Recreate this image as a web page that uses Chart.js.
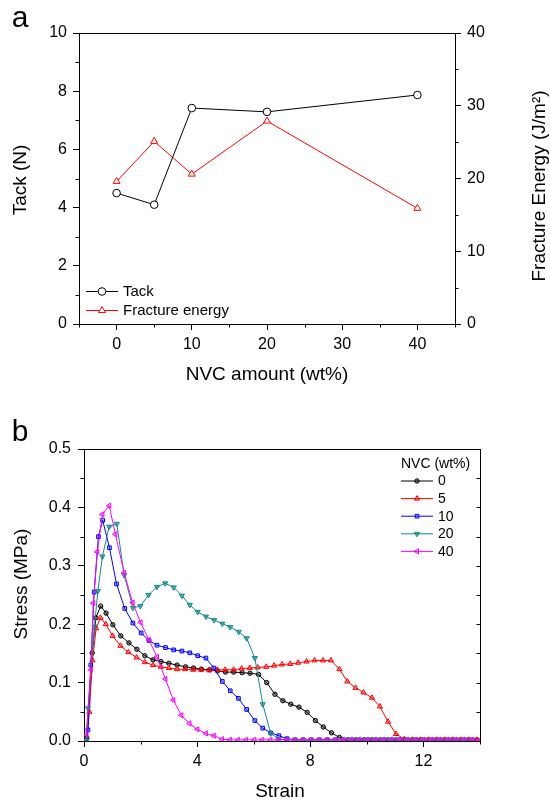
<!DOCTYPE html>
<html>
<head>
<meta charset="utf-8">
<script src="https://cdn.jsdelivr.net/npm/chart.js@4.4.1/dist/chart.umd.min.js"></script>
<style>
  html, body { margin: 0; padding: 0; background: #fff; }
  .panel { position: absolute; left: 0; width: 550px; height: 400px; }
  canvas { display: block; }
</style>
</head>
<body>
<div class="panel" style="top:0"><canvas id="chartA" width="550" height="400"></canvas></div>
<div class="panel" style="top:400px"><canvas id="chartB" width="550" height="400"></canvas></div>
<script>
// ---- panel a: tack / fracture energy vs NVC amount
const nvcAmount = [0, 5, 10, 20, 40];
const tackValues = [4.50, 4.10, 7.42, 7.29, 7.87];
const fractureEnergy = [19.6, 25.1, 20.6, 27.9, 15.9];
const xTicksA = [0, 10, 20, 30, 40];
const xMinorA = [-5, 5, 15, 25, 35, 45];
const yMinorA = [1, 3, 5, 7, 9];
const y1MinorA = [5, 15, 25, 35];

// ---- panel b: stress-strain curves
const nvcLabels = ['0', '5', '10', '20', '40'];
const strain0 = [0.10, 0.29, 0.42, 0.59, 0.78, 1.02, 1.30, 1.59, 1.87, 2.15, 2.44, 2.72, 3.00, 3.29, 3.59,
  3.87, 4.15, 4.44, 4.72, 5.00, 5.29, 5.59, 5.87, 6.17, 6.46, 6.75, 7.03, 7.31, 7.60, 7.89,
  8.18, 8.46, 8.75, 9.03, 9.33, 9.61, 9.90, 10.18, 10.47, 10.75, 11.04, 11.32, 11.61, 11.89, 12.18,
  12.46, 12.75, 13.03, 13.32, 13.60, 13.89];
const stress0 = [0.005, 0.151, 0.211, 0.231, 0.219, 0.199, 0.180, 0.168, 0.157, 0.146, 0.139, 0.136, 0.133, 0.130, 0.127,
  0.125, 0.123, 0.122, 0.120, 0.118, 0.118, 0.117, 0.116, 0.114, 0.100, 0.080, 0.069, 0.063, 0.058, 0.049,
  0.035, 0.024, 0.014, 0.006, 0.002, 0.002, 0.002, 0.002, 0.002, 0.002, 0.002, 0.002, 0.002, 0.002, 0.002,
  0.002, 0.002, 0.002, 0.002, 0.002, 0.002];
const strain5 = [0.10, 0.19, 0.30, 0.43, 0.58, 0.77, 1.01, 1.29, 1.57, 1.86, 2.15, 2.44, 2.72, 3.00, 3.29,
  3.57, 3.86, 4.14, 4.43, 4.71, 4.99, 5.29, 5.57, 5.86, 6.14, 6.44, 6.72, 7.00, 7.29, 7.57,
  7.87, 8.15, 8.45, 8.73, 9.03, 9.31, 9.60, 9.88, 10.18, 10.46, 10.75, 11.03, 11.33, 11.61, 11.90,
  12.18, 12.47, 12.75, 13.04, 13.32, 13.61, 13.89];
const stress5 = [0.0, 0.050, 0.138, 0.193, 0.211, 0.200, 0.180, 0.163, 0.152, 0.143, 0.135, 0.130, 0.127, 0.125, 0.123,
  0.123, 0.122, 0.122, 0.121, 0.122, 0.122, 0.122, 0.124, 0.125, 0.126, 0.127, 0.129, 0.131, 0.132, 0.134,
  0.136, 0.138, 0.138, 0.138, 0.123, 0.102, 0.091, 0.083, 0.074, 0.059, 0.033, 0.012, 0.003, 0.002, 0.002,
  0.002, 0.002, 0.002, 0.002, 0.002, 0.002, 0.002];
const strain10 = [0.08, 0.14, 0.24, 0.36, 0.51, 0.66, 0.90, 1.15, 1.44, 1.73, 2.02, 2.30, 2.58, 2.88, 3.17,
  3.46, 3.74, 4.02, 4.31, 4.59, 4.89, 5.17, 5.46, 5.75, 6.04, 6.32, 6.60, 6.89, 7.18, 7.46,
  7.75, 8.03, 8.32, 8.60, 8.89, 9.17, 9.46, 9.74, 10.03, 10.31, 10.60, 10.88, 11.17, 11.45, 11.74,
  12.02, 12.31, 12.59, 12.88, 13.16, 13.45, 13.73];
const stress10 = [0.0, 0.019, 0.130, 0.255, 0.350, 0.378, 0.331, 0.269, 0.227, 0.202, 0.185, 0.172, 0.164, 0.160, 0.156,
  0.154, 0.151, 0.146, 0.142, 0.125, 0.102, 0.086, 0.073, 0.054, 0.035, 0.022, 0.014, 0.009, 0.004, 0.002,
  0.002, 0.002, 0.002, 0.002, 0.002, 0.002, 0.002, 0.002, 0.002, 0.002, 0.002, 0.002, 0.002, 0.002, 0.002,
  0.002, 0.002, 0.002, 0.002, 0.002, 0.002, 0.002];
const strain20 = [0.08, 0.14, 0.37, 0.49, 0.65, 0.89, 1.16, 1.42, 1.73, 1.99, 2.28, 2.58, 2.87, 3.17, 3.46,
  3.74, 4.02, 4.31, 4.60, 4.89, 5.17, 5.47, 5.75, 6.04, 6.32, 6.60, 6.89, 7.17, 7.46, 7.74,
  8.03, 8.31, 8.60, 8.88, 9.17, 9.45, 9.74, 10.02, 10.31, 10.59, 10.88, 11.16, 11.45, 11.73, 12.02,
  12.30, 12.59, 12.87, 13.16, 13.44, 13.73];
const stress20 = [0.0, 0.056, 0.196, 0.257, 0.316, 0.367, 0.372, 0.284, 0.228, 0.231, 0.250, 0.264, 0.270, 0.263, 0.249,
  0.233, 0.221, 0.213, 0.207, 0.201, 0.195, 0.187, 0.176, 0.142, 0.063, 0.013, 0.003, 0.002, 0.002, 0.002,
  0.002, 0.002, 0.002, 0.002, 0.002, 0.002, 0.002, 0.002, 0.002, 0.002, 0.002, 0.002, 0.002, 0.002, 0.002,
  0.002, 0.002, 0.002, 0.002, 0.002, 0.002];
const strain40 = [0.09, 0.24, 0.33, 0.47, 0.65, 0.89, 1.11, 1.42, 1.72, 2.00, 2.30, 2.58, 2.88, 3.16, 3.44,
  3.73, 4.01, 4.31, 4.59, 4.88, 5.16, 5.45, 5.73, 6.02, 6.30, 6.59, 6.87, 7.16, 7.44, 7.73,
  8.01, 8.30, 8.58, 8.87, 9.15, 9.44, 9.72, 10.01, 10.29, 10.58, 10.86, 11.15, 11.43, 11.72, 12.00,
  12.29, 12.57, 12.86, 13.14, 13.43, 13.71, 14.00];
const stress40 = [0.011, 0.122, 0.236, 0.324, 0.388, 0.403, 0.354, 0.288, 0.237, 0.203, 0.173, 0.144, 0.106, 0.070, 0.044,
  0.030, 0.020, 0.013, 0.009, 0.003, 0.002, 0.002, 0.002, 0.002, 0.002, 0.002, 0.002, 0.002, 0.002, 0.002,
  0.002, 0.002, 0.002, 0.002, 0.002, 0.002, 0.002, 0.002, 0.002, 0.002, 0.002, 0.002, 0.002, 0.002, 0.002,
  0.002, 0.002, 0.002, 0.002, 0.002, 0.002, 0.002];
const xTicksB = [0, 4, 8, 12];
const xMinorB = [2, 6, 10, 14];
const yMinorB = [0.05, 0.15, 0.25, 0.35, 0.45];
const yRightB = [0.05, 0.1, 0.15, 0.2, 0.25, 0.3, 0.35, 0.4, 0.45];

const FONT = "'Liberation Sans', Arial, Helvetica, sans-serif";
Chart.defaults.font.family = FONT;
Chart.defaults.color = '#000';

function pairs(xs, ys) {
  return xs.map((x, i) => ({ x: x, y: ys[i] }));
}

// small tick marks the library has no option for (minor ticks, mirrored ticks)
function drawTicks(chart, scaleId, values, len, side) {
  const ctx = chart.ctx, a = chart.chartArea, s = chart.scales[scaleId];
  ctx.save();
  ctx.strokeStyle = '#000';
  ctx.lineWidth = 1;
  ctx.beginPath();
  values.forEach(v => {
    const p = Math.round(s.getPixelForValue(v)) + 0.5;
    if (side === 'bottom') { ctx.moveTo(p, a.bottom); ctx.lineTo(p, a.bottom + len); }
    if (side === 'left') { ctx.moveTo(a.left, p); ctx.lineTo(a.left - len, p); }
    if (side === 'right') { ctx.moveTo(a.right, p); ctx.lineTo(a.right + len, p); }
  });
  ctx.stroke();
  ctx.restore();
}

function drawFrame(chart) {
  const ctx = chart.ctx, a = chart.chartArea;
  ctx.save();
  ctx.strokeStyle = '#000';
  ctx.lineWidth = 1;
  ctx.beginPath();
  ctx.moveTo(Math.round(a.left), Math.round(a.top) + 0.5);
  ctx.lineTo(Math.round(a.right) + 1, Math.round(a.top) + 0.5);
  ctx.moveTo(Math.round(a.right) + 0.5, Math.round(a.top));
  ctx.lineTo(Math.round(a.right) + 0.5, Math.round(a.bottom));
  ctx.stroke();
  ctx.restore();
}

function text(ctx, str, x, y, size, align, rot) {
  ctx.save();
  ctx.font = size + 'px ' + FONT;
  ctx.fillStyle = '#000';
  ctx.textAlign = align || 'center';
  ctx.textBaseline = 'middle';
  ctx.translate(x, y);
  if (rot) ctx.rotate(rot);
  ctx.fillText(str, 0, 0);
  ctx.restore();
}

function legendRow(chart, ds, x0, x1, y, label, size) {
  const ctx = chart.ctx;
  ctx.save();
  ctx.strokeStyle = ds.borderColor;
  ctx.lineWidth = 1;
  ctx.beginPath();
  ctx.moveTo(x0, y + 0.5);
  ctx.lineTo(x1, y + 0.5);
  ctx.stroke();
  ctx.fillStyle = ds.pointBackgroundColor;
  ctx.strokeStyle = ds.borderColor;
  ctx.lineWidth = ds.pointBorderWidth;
  Chart.helpers.drawPoint(ctx, {
    pointStyle: ds.pointStyle, rotation: ds.pointRotation || 0,
    radius: ds.pointRadius, borderWidth: ds.pointBorderWidth
  }, (x0 + x1) / 2, y + 0.5);
  ctx.restore();
  text(ctx, label, x1 + 5, y + 1, size, 'left');
}

function axisGrid() {
  return { drawOnChartArea: false, drawTicks: true, tickLength: 6, color: '#000', tickColor: '#000' };
}
const axisBorder = { display: true, color: '#000', width: 1 };

// ---------------- chart a
new Chart(document.getElementById('chartA'), {
  type: 'line',
  data: {
    datasets: [
      {
        label: 'Tack',
        data: pairs(nvcAmount, tackValues),
        yAxisID: 'y',
        borderColor: '#000',
        borderWidth: 1,
        pointStyle: 'circle',
        pointRadius: 3.8,
        pointBorderWidth: 1,
        pointBackgroundColor: '#fff',
        pointBorderColor: '#000',
        tension: 0
      },
      {
        label: 'Fracture energy',
        data: pairs(nvcAmount, fractureEnergy),
        yAxisID: 'y1',
        borderColor: '#ff0000',
        borderWidth: 1,
        pointStyle: 'triangle',
        pointRadius: 4,
        pointBorderWidth: 1,
        pointBackgroundColor: '#fff',
        pointBorderColor: '#ff0000',
        tension: 0
      }
    ]
  },
  options: {
    responsive: false,
    animation: false,
    layout: { padding: { top: 33, left: 0, right: 0, bottom: 0 } },
    plugins: { legend: { display: false }, tooltip: { enabled: false } },
    scales: {
      x: {
        type: 'linear', min: -5, max: 45, position: 'bottom',
        afterBuildTicks: s => { s.ticks = xTicksA.map(v => ({ value: v })); },
        afterFit: s => { s.height = 76; },
        ticks: { font: { size: 16 }, padding: 5, maxRotation: 0, autoSkip: false },
        grid: axisGrid(), border: axisBorder
      },
      y: {
        min: 0, max: 10, position: 'left',
        afterFit: s => { s.width = 79; },
        ticks: { stepSize: 2, font: { size: 16 }, padding: 6 },
        grid: axisGrid(), border: axisBorder
      },
      y1: {
        min: 0, max: 40, position: 'right',
        afterFit: s => { s.width = 95; },
        ticks: { stepSize: 10, font: { size: 16 }, padding: 6 },
        grid: axisGrid(), border: axisBorder
      }
    }
  },
  plugins: [{
    id: 'decorA',
    afterDraw(chart) {
      const ctx = chart.ctx;
      drawFrame(chart);
      drawTicks(chart, 'x', xMinorA, 3.5, 'bottom');
      drawTicks(chart, 'y', yMinorA, 3.5, 'left');
      drawTicks(chart, 'y1', y1MinorA, 3.5, 'right');
      text(ctx, 'a', 20, 19, 30);
      text(ctx, 'Tack (N)', 21, 180, 19, 'center', -Math.PI / 2);
      text(ctx, 'NVC amount (wt%)', 267, 375, 19);
      text(ctx, 'Fracture Energy (J/m\u00B2)', 540, 186, 19, 'center', -Math.PI / 2);
      const ds = chart.data.datasets;
      legendRow(chart, ds[0], 86, 118, 291, ds[0].label, 15);
      legendRow(chart, ds[1], 86, 118, 310, ds[1].label, 15);
    }
  }]
});

// ---------------- chart b
const seriesB = [
  { strain: strain0, stress: stress0, color: '#000000', fill: 'rgba(0,0,0,0.4)', style: 'circle', rot: 0, r: 2.2 },
  { strain: strain5, stress: stress5, color: '#ff0000', fill: 'rgba(255,0,0,0.3)', style: 'triangle', rot: 0, r: 3 },
  { strain: strain10, stress: stress10, color: '#0000ff', fill: 'rgba(0,0,255,0.25)', style: 'rect', rot: 0, r: 2.6 },
  { strain: strain20, stress: stress20, color: '#138a8a', fill: 'rgba(19,138,138,0.6)', style: 'triangle', rot: 180, r: 3 },
  { strain: strain40, stress: stress40, color: '#ff00ff', fill: 'rgba(255,0,255,0.3)', style: 'triangle', rot: -90, r: 3 }
];

new Chart(document.getElementById('chartB'), {
  type: 'line',
  data: {
    datasets: seriesB.map((s, i) => ({
      label: nvcLabels[i],
      data: pairs(s.strain, s.stress),
      borderColor: s.color,
      borderWidth: 1,
      pointStyle: s.style,
      pointRotation: s.rot,
      pointRadius: s.r,
      pointBorderWidth: 1,
      pointBorderColor: s.color,
      pointBackgroundColor: s.fill,
      tension: 0,
      order: seriesB.length - i
    }))
  },
  options: {
    responsive: false,
    animation: false,
    layout: { padding: { top: 49, left: 0, right: 70, bottom: 0 } },
    plugins: { legend: { display: false }, tooltip: { enabled: false } },
    scales: {
      x: {
        type: 'linear', min: 0, max: 14, position: 'bottom',
        afterBuildTicks: s => { s.ticks = xTicksB.map(v => ({ value: v })); },
        afterFit: s => { s.height = 59; },
        ticks: { font: { size: 16 }, padding: 5, maxRotation: 0, autoSkip: false },
        grid: axisGrid(), border: axisBorder
      },
      y: {
        min: 0, max: 0.5, position: 'left',
        afterFit: s => { s.width = 84; },
        ticks: { stepSize: 0.1, font: { size: 16 }, padding: 7, callback: v => Number(v).toFixed(1) },
        grid: axisGrid(), border: axisBorder
      }
    }
  },
  plugins: [{
    id: 'decorB',
    afterDraw(chart) {
      const ctx = chart.ctx;
      drawFrame(chart);
      drawTicks(chart, 'x', xMinorB, 3.5, 'bottom');
      drawTicks(chart, 'y', yMinorB, 3.5, 'left');
      drawTicks(chart, 'y', yRightB, -3.5, 'right');
      text(ctx, 'b', 20, 33, 30);
      text(ctx, 'Stress (MPa)', 22, 184, 19, 'center', -Math.PI / 2);
      text(ctx, 'Strain', 280, 392, 19);
      text(ctx, 'NVC (wt%)', 401, 64, 14, 'left');
      chart.data.datasets.forEach((ds, i) => {
        legendRow(chart, ds, 401, 433, 80.5 + i * 17.6, ds.label, 14);
      });
    }
  }]
});
</script>
</body>
</html>
